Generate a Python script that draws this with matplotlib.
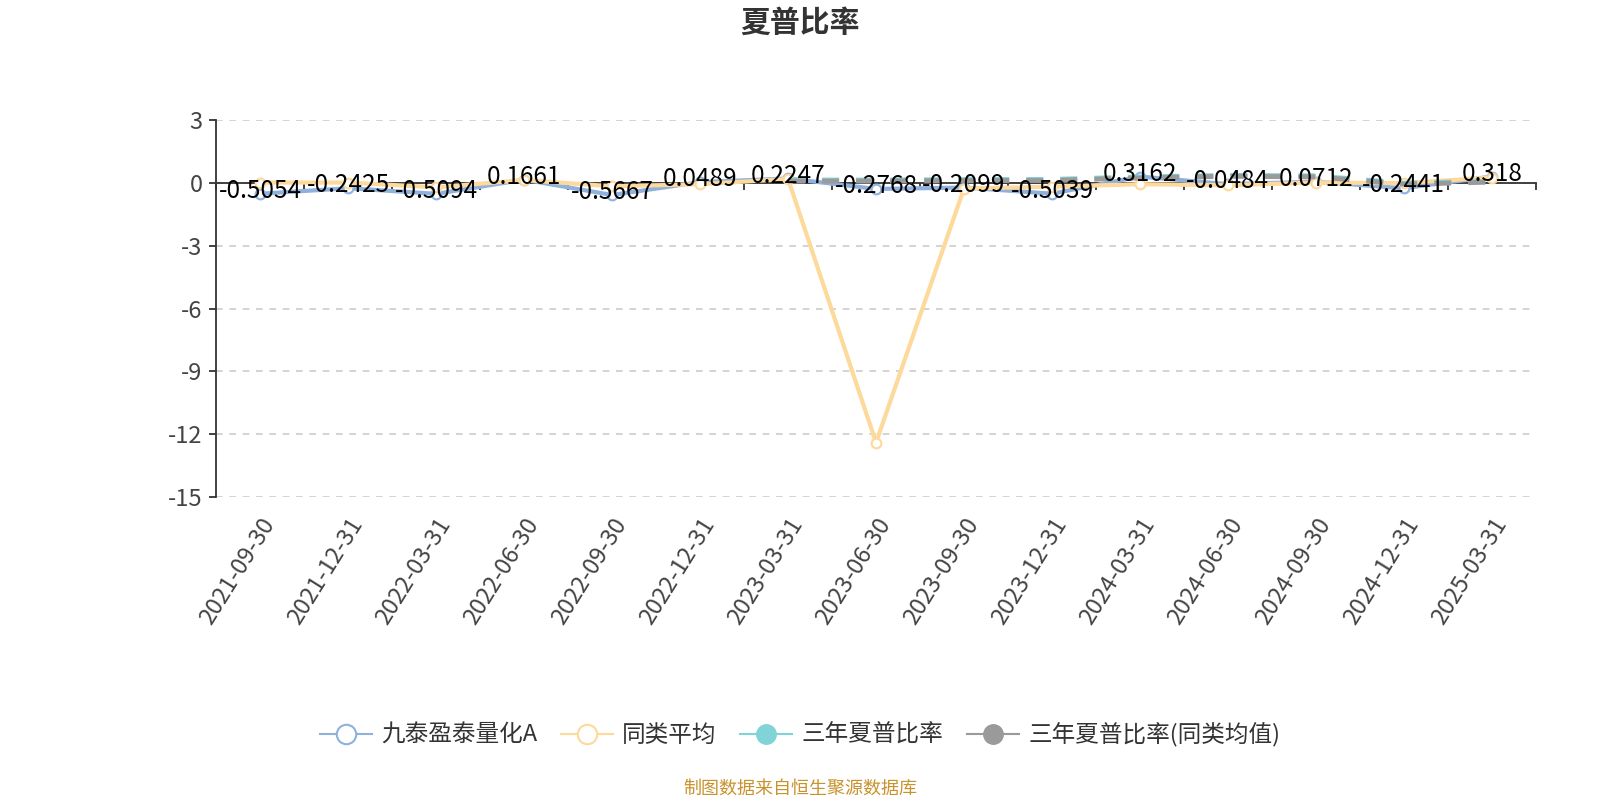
import matplotlib
matplotlib.use("Agg")
import matplotlib.pyplot as plt
import numpy as np
from matplotlib.lines import Line2D

plt.rcParams["font.family"] = ["Noto Sans CJK SC", "DejaVu Sans"]

# --- data ---
dates = ["2021-09-30", "2021-12-31", "2022-03-31", "2022-06-30", "2022-09-30",
         "2022-12-31", "2023-03-31", "2023-06-30", "2023-09-30", "2023-12-31",
         "2024-03-31", "2024-06-30", "2024-09-30", "2024-12-31", "2025-03-31"]
fund = [-0.5054, -0.2425, -0.5094, 0.1661, -0.5667, 0.0489, 0.2247, -0.2768,
        -0.2099, -0.5039, 0.3162, -0.0484, 0.0712, -0.2441, 0.318]
peer_avg = [0.03, 0.03, -0.2, 0.15, -0.15, -0.05, 0.2, -12.4,
            -0.26, -0.17, -0.05, -0.1, 0.03, 0.0, 0.27]
sharpe_3y = [None, None, None, None, None, None, 0.15, 0.15, 0.17, 0.18,
             0.3, 0.37, 0.35, 0.0, 0.1]
sharpe_3y_peer = [None, None, None, None, None, None, 0.1, 0.1, 0.12, 0.13,
                  0.25, 0.33, 0.3, -0.05, 0.05]
yticks = [3, 0, -3, -6, -9, -12, -15]

c_fund = "#8fb1de"
c_peer = "#fdd99c"
c_teal = "#80d4d7"
c_gray = "#9a9a9a"

W, H = 1568, 784
fig = plt.figure(figsize=(16, 8), dpi=100)
ax = fig.add_axes([212 / W, 1 - 487 / H, (1505 - 212) / W, (487 - 118) / H])

x = np.arange(len(dates))


def to_arr(v):
    return np.array([np.nan if a is None else a for a in v], dtype=float)


ax.plot(x, fund, color=c_fund, lw=3, marker="o", ms=7, mfc="white",
        mec=c_fund, mew=1.5, zorder=3)
ax.plot(x, peer_avg, color=c_peer, lw=3, marker="o", ms=7, mfc="white",
        mec=c_peer, mew=1.5, zorder=4)
ax.plot(x, to_arr(sharpe_3y), color=c_teal, lw=3.5, dashes=(3.5, 3.5), zorder=5)
ax.plot(x, to_arr(sharpe_3y_peer), color=c_gray, lw=3.5, dashes=(3.5, 3.5), zorder=6)

for xi, v in zip(x, fund):
    ax.annotate(f"{v:g}" if abs(v) >= 0.1 else f"{v:.4f}", (xi, v),
                xytext=(0, 2), textcoords="offset points",
                ha="center", va="center", fontsize=17.5, color="black", zorder=10)

ax.set_xlim(-0.5, len(dates) - 0.5)
ax.set_ylim(-15, 3)
ax.set_yticks(yticks)
ax.set_yticklabels([str(t) for t in yticks], fontsize=17, color="#444444")
ax.yaxis.grid(True, ls=(0, (4, 4)), color="#cccccc", lw=1.2)
ax.set_axisbelow(True)

for s in ["top", "right"]:
    ax.spines[s].set_visible(False)
ax.spines["left"].set_color("#333333")
ax.spines["left"].set_linewidth(1.3)
ax.spines["bottom"].set_position(("data", 0))
ax.spines["bottom"].set_color("#333333")
ax.spines["bottom"].set_linewidth(1.3)
ax.tick_params(axis="y", length=5, width=1.3, color="#333333", pad=5)

# boundary ticks on the zero line, no labels
ax.set_xticks(np.arange(len(dates) + 1) - 0.5)
ax.set_xticklabels([])
ax.tick_params(axis="x", length=5, width=1.3, color="#333333")

# date labels at the bottom of the plot
sec = ax.secondary_xaxis("bottom")
sec.set_xticks(x)
sec.set_xticklabels(dates, rotation=58, ha="right", rotation_mode="anchor",
                    fontsize=17, color="#444444")
sec.tick_params(length=0, pad=12)
sec.spines["bottom"].set_visible(False)

fig.text(0.5, 1 - 22 / H, "夏普比率", ha="center", va="center",
         fontsize=21.5, fontweight="bold", color="#333333")
fig.text(0.5, 1 - 773 / H, "制图数据来自恒生聚源数据库", ha="center",
         va="center", fontsize=13, color="#c8922c")

handles = [
    Line2D([], [], color=c_fund, lw=1.5, marker="o", ms=14, mfc="white", mec=c_fund, mew=1.5),
    Line2D([], [], color=c_peer, lw=1.5, marker="o", ms=14, mfc="white", mec=c_peer, mew=1.5),
    Line2D([], [], color=c_teal, lw=1.5, marker="o", ms=14, mfc=c_teal, mec=c_teal),
    Line2D([], [], color=c_gray, lw=1.5, marker="o", ms=14, mfc=c_gray, mec=c_gray),
]
labels = ["九泰盈泰量化A", "同类平均", "三年夏普比率", "三年夏普比率(同类均值)"]
fig.legend(handles, labels, loc="center", bbox_to_anchor=(0.5, 1 - 720 / H),
           ncol=4, frameon=False, fontsize=17, handlelength=2.2,
           columnspacing=1.0, handletextpad=0.4, labelcolor="#333333")

fig.savefig("out.png", dpi=100)
